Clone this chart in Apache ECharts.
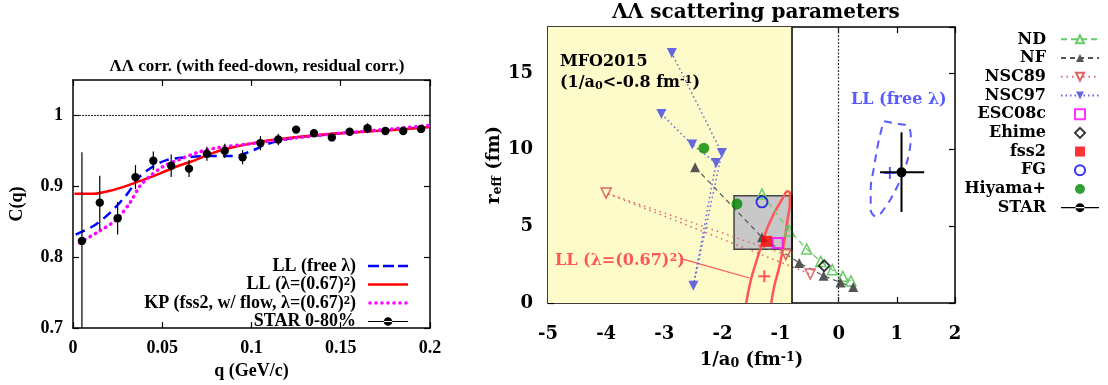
<!DOCTYPE html>
<html>
<head>
<meta charset="utf-8">
<script src="https://cdn.jsdelivr.net/npm/echarts@6/dist/echarts.min.js"></script>
<style>
html, body { margin: 0; padding: 0; background: #fff; }
#chart { width: 1108px; height: 385px; }
</style>
</head>
<body>
<div id="chart"></div>
<script>
// ---------- left panel: correlation function C(q) ----------
const starQ = [0.005, 0.015, 0.025, 0.035, 0.045, 0.055, 0.065, 0.075, 0.085, 0.095,
               0.105, 0.115, 0.125, 0.135, 0.145, 0.155, 0.165, 0.175, 0.185, 0.195];
const starC = [0.823, 0.877, 0.855, 0.913, 0.936, 0.929, 0.925, 0.946, 0.950, 0.941,
               0.961, 0.966, 0.980, 0.975, 0.969, 0.977, 0.982, 0.978, 0.978, 0.981];
const starErr = [0.125, 0.038, 0.023, 0.017, 0.013, 0.016, 0.012, 0.010, 0.010, 0.010,
                 0.010, 0.008, 0.005, 0.005, 0.005, 0.005, 0.007, 0.004, 0.004, 0.004];

const llFree = [[0.0015, 0.832], [0.0114, 0.844], [0.0207, 0.8625], [0.030, 0.888], [0.0374, 0.9137],
                [0.0449, 0.928], [0.0524, 0.937], [0.0636, 0.941], [0.0748, 0.9427], [0.086, 0.9427],
                [0.0935, 0.944], [0.101, 0.951], [0.1085, 0.9594], [0.123, 0.968], [0.142, 0.973],
                [0.161, 0.977], [0.18, 0.980], [0.2, 0.984]];
const llFixed = [[0.0008, 0.8895], [0.0114, 0.8895], [0.0207, 0.8937], [0.030, 0.9007], [0.0393, 0.909],
                 [0.0486, 0.918], [0.058, 0.928], [0.0674, 0.936], [0.0767, 0.9455], [0.086, 0.953],
                 [0.1047, 0.9627], [0.123, 0.9688], [0.1421, 0.9734], [0.1608, 0.9767], [0.1795, 0.9795],
                 [0.2, 0.9837]];
const kpFss2 = [[0.0037, 0.8206], [0.0149, 0.837], [0.0243, 0.853], [0.0318, 0.8765], [0.0374, 0.90],
                [0.043, 0.914], [0.0505, 0.928], [0.0598, 0.938], [0.071, 0.9487], [0.0823, 0.955],
                [0.0972, 0.9594], [0.114, 0.965], [0.1327, 0.9706], [0.1514, 0.9753], [0.17, 0.979],
                [0.2, 0.986]];
const unityLine = [[0, 1], [0.2, 1]];

// ---------- right panel: scattering parameters (1/a0, r_eff) ----------
const ndPts = [[-1.32, 7.11], [-0.85, 4.72], [-0.55, 3.52], [-0.31, 2.71], [-0.11, 2.17], [0.07, 1.74], [0.21, 1.44]];
const nfPts = [[-2.47, 8.85], [-1.32, 4.28], [-0.68, 2.61], [-0.26, 1.78], [0.03, 1.34], [0.25, 1.04]];
const nsc89Pts = [[-0.91, 3.15], [-4.0, 7.17], [-0.49, 1.89]];
const nsc97Pts = [[-3.05, 12.33], [-2.52, 10.33], [-2.11, 9.13], [-2.5, 1.13], [-2.01, 9.78], [-2.87, 16.3]];
const esc08cPts = [[-1.05, 3.91]];
const ehimePts = [[-0.25, 2.43]];
const fss2Pts = [[-1.24, 4.02]];
const fgPts = [[-1.32, 6.59]];
const hiyamaPts = [[-2.32, 10.1], [-1.75, 6.46]];
// x, y, xLow, xHigh, yLow, yHigh
const starRight = [[1.08, 8.52, 0.71, 1.47, 5.94, 11.13]];

const llFixedContour = [[-1.59, 0], [-1.51, 1.52], [-1.39, 3.04], [-1.25, 4.67], [-1.11, 5.87], [-0.96, 6.85],
                        [-0.88, 7.28], [-0.84, 7.17], [-0.84, 6.52], [-0.88, 5.43], [-0.93, 4.13],
                        [-1.02, 2.39], [-1.11, 1.08], [-1.16, 0]];
const llFreeContour = [[0.78, 11.85], [1.04, 11.67], [1.18, 11.57], [1.24, 10.87], [1.21, 9.78], [1.13, 8.7],
                       [0.98, 7.39], [0.81, 6.3], [0.64, 5.65], [0.55, 6.09], [0.55, 7.39], [0.61, 8.91],
                       [0.68, 10.44], [0.75, 11.52], [0.78, 11.85]];
const llFixedBest = [[-1.28, 1.74]];
const llFreeBest = [[0.88, 8.48]];
const llFixedPointer = [[-2.71, 2.89], [-1.54, 1.63]];
const mfoRange = [-5, -0.8];
const grayBox = [[-1.8, 3.5], [-0.8, 7.0]];

const SERIF = 'Liberation Serif';   // left panel
const WIDE = 'DejaVu Serif';        // right panel (its lettering is wider)
const chart = echarts.init(document.getElementById('chart'));

// rich text tokens: b = base, s = subscript, u = superscript
function rich(font, size, lh) {
  return {
    b: { fontFamily: font, fontWeight: 'bold', fontSize: size, lineHeight: lh || size + 1 },
    s: { fontFamily: font, fontWeight: 'bold', fontSize: size * 0.7, lineHeight: 6, verticalAlign: 'bottom' },
    u: { fontFamily: font, fontWeight: 'bold', fontSize: size * 0.7, lineHeight: 6, verticalAlign: 'top' }
  };
}

function axisBase(font, size, margin, hideMax) {
  return {
    axisLine: { show: true, onZero: false, lineStyle: { color: '#000', width: 1.5 } },
    axisTick: { show: true, inside: true, length: 6, lineStyle: { color: '#000', width: 1.2 } },
    splitLine: { show: false },
    axisLabel: { color: '#000', fontFamily: font, fontWeight: 'bold', fontSize: size, margin: margin, showMaxLabel: !hideMax },
    nameTextStyle: { color: '#000', fontFamily: font, fontWeight: 'bold', fontSize: size, rich: rich(font, size) }
  };
}

function mirror(extra) {
  const a = axisBase(SERIF, 12, 8, false);
  a.axisLabel = { show: false };
  return Object.assign(a, extra);
}

function renderStarLeft(params, api) {
  const q = api.value(0), c = api.value(1), e = api.value(2);
  const p = api.coord([q, c]);
  const hi = api.coord([q, c + e]);
  const lo = api.coord([q, c - e]);
  return {
    type: 'group',
    children: [
      { type: 'line', shape: { x1: p[0], y1: hi[1], x2: p[0], y2: lo[1] }, style: { stroke: '#000', lineWidth: 1.2 } },
      { type: 'circle', shape: { cx: p[0], cy: p[1], r: 4.2 }, style: { fill: '#000' } }
    ]
  };
}

function renderStarRight(params, api) {
  const p = api.coord([api.value(0), api.value(1)]);
  const xl = api.coord([api.value(2), api.value(1)]);
  const xh = api.coord([api.value(3), api.value(1)]);
  const yl = api.coord([api.value(0), api.value(4)]);
  const yh = api.coord([api.value(0), api.value(5)]);
  return {
    type: 'group',
    children: [
      { type: 'line', shape: { x1: xl[0], y1: p[1], x2: xh[0], y2: p[1] }, style: { stroke: '#000', lineWidth: 2 } },
      { type: 'line', shape: { x1: p[0], y1: yl[1], x2: p[0], y2: yh[1] }, style: { stroke: '#000', lineWidth: 2 } },
      { type: 'circle', shape: { cx: p[0], cy: p[1], r: 5 }, style: { fill: '#000' } }
    ]
  };
}

function crossRenderer(color) {
  return function (params, api) {
    const p = api.coord([api.value(0), api.value(1)]);
    const h = 6;
    return {
      type: 'group',
      children: [
        { type: 'line', shape: { x1: p[0] - h, y1: p[1], x2: p[0] + h, y2: p[1] }, style: { stroke: color, lineWidth: 2 } },
        { type: 'line', shape: { x1: p[0], y1: p[1] - h, x2: p[0], y2: p[1] + h }, style: { stroke: color, lineWidth: 2 } }
      ]
    };
  };
}

// legend icon paths (w x 10 boxes, tiny anchors keep the full bounds)
function anchors(w) { return 'M0,0L0.01,0L0,0.01Z M' + w + ',10L' + (w - 0.01) + ',10L' + w + ',9.99Z '; }
function circ(cx, cy, r) {
  return 'M' + (cx - r) + ',' + cy + 'A' + r + ',' + r + ',0,1,0,' + (cx + r) + ',' + cy +
         'A' + r + ',' + r + ',0,1,0,' + (cx - r) + ',' + cy + 'Z ';
}
const iconDash = 'path://' + anchors(40) + 'M0,3.8L11,3.8L11,6.2L0,6.2Z M15,3.8L26,3.8L26,6.2L15,6.2Z M30,3.8L40,3.8L40,6.2L30,6.2Z';
const iconSolid = 'path://' + anchors(40) + 'M0,3.7L40,3.7L40,6.3L0,6.3Z';
let dots = '';
for (let x = 2; x <= 38; x += 6) dots += circ(x, 5, 1.8);
const iconDots = 'path://' + anchors(40) + dots;
const iconStarLeft = 'path://' + anchors(40) + 'M0,4.4L40,4.4L40,5.6L0,5.6Z ' + circ(20, 5, 4.3);
const iconStarRight = 'path://' + anchors(38) + 'M0,4.3L38,4.3L38,5.7L0,5.7Z ' + circ(19, 5, 4.5);
const iconSquare = 'path://M0,0L10,0L10,10L0,10Z';
const iconDiamond = 'path://M5,0L10,5L5,10L0,5Z';

const option = {
  animation: false,
  backgroundColor: '#fff',
  title: [
    {
      text: 'ΛΛ corr. (with feed-down, residual corr.)',
      left: 252, top: 53, textAlign: 'center',
      textStyle: { fontFamily: SERIF, fontWeight: 'bold', fontSize: 17, color: '#000' }
    },
    {
      text: 'ΛΛ scattering parameters',
      left: 751, top: -2, textAlign: 'center',
      textStyle: { fontFamily: WIDE, fontWeight: 'bold', fontSize: 20, color: '#000' }
    }
  ],
  grid: [
    { left: 73, top: 80, width: 357, height: 249 },
    { left: 548, top: 27, width: 407, height: 276 }
  ],
  xAxis: [
    Object.assign(axisBase(SERIF, 18, 11, false), {
      gridIndex: 0, type: 'value', min: 0, max: 0.2, interval: 0.05, position: 'bottom',
      name: 'q (GeV/c)', nameLocation: 'middle', nameGap: 32
    }),
    Object.assign(axisBase(WIDE, 18, 22, false), {
      gridIndex: 1, type: 'value', min: -5, max: 2, interval: 1, position: 'bottom',
      name: '{b|1/a}{s|0}{b| (fm}{u|-1}{b|)}', nameLocation: 'middle', nameGap: 48
    }),
    mirror({ gridIndex: 0, type: 'value', min: 0, max: 0.2, interval: 0.05, position: 'top' }),
    mirror({ gridIndex: 1, type: 'value', min: -5, max: 2, interval: 1, position: 'top' })
  ],
  yAxis: [
    Object.assign(axisBase(SERIF, 18, 10, true), {
      gridIndex: 0, type: 'value', min: 0.7, max: 1.05, interval: 0.1, position: 'left',
      name: 'C(q)', nameLocation: 'middle', nameGap: 47
    }),
    Object.assign(axisBase(WIDE, 18, 15, true), {
      gridIndex: 1, type: 'value', min: 0, max: 18, interval: 5, position: 'left',
      name: '{b|r}{s|eff}{b| (fm)}', nameLocation: 'middle', nameGap: 38
    }),
    mirror({ gridIndex: 0, type: 'value', min: 0.7, max: 1.05, interval: 0.1, position: 'right' }),
    mirror({ gridIndex: 1, type: 'value', min: 0, max: 18, interval: 5, position: 'right' })
  ],
  legend: [
    {
      orient: 'vertical', align: 'right', right: 695, top: 252,
      itemWidth: 40, itemHeight: 10, itemGap: 0.5, selectedMode: false, symbolKeepAspect: true,
      formatter: function (name) {
        if (name === 'LL (λ=(0.67)²)') return '{b|LL (λ=(0.67)}{u|2}{b|)}';
        if (name === 'KP (fss2, w/ flow, λ=(0.67)²)') return '{b|KP (fss2, w/ flow, λ=(0.67)}{u|2}{b|)}';
        return '{b|' + name + '}';
      },
      textStyle: { color: '#000', fontFamily: SERIF, fontWeight: 'bold', fontSize: 18, padding: [0, 7, 0, 0], rich: rich(SERIF, 18, 18) },
      data: [
        { name: 'LL (free λ)', icon: iconDash },
        { name: 'LL (λ=(0.67)²)', icon: iconSolid },
        { name: 'KP (fss2, w/ flow, λ=(0.67)²)', icon: iconDots },
        { name: 'STAR 0-80%', icon: iconStarLeft }
      ]
    },
    {
      orient: 'vertical', align: 'right', right: 3, top: 25,
      itemWidth: 38, itemHeight: 10, itemGap: 0, selectedMode: false, symbolKeepAspect: true,
      textStyle: { color: '#000', fontFamily: WIDE, fontWeight: 'bold', fontSize: 16, lineHeight: 18.7, padding: [0, 10, 0, 0] },
      data: ['ND', 'NF', 'NSC89', 'NSC97',
             { name: 'ESC08c', icon: iconSquare }, { name: 'Ehime', icon: iconDiamond },
             { name: 'fss2', icon: iconSquare }, 'FG', 'Hiyama+', { name: 'STAR', icon: iconStarRight }]
    }
  ],
  graphic: [
    { type: 'text', x: 560, y: 62, z: 100, style: { text: 'MFO2015', fill: '#000', font: 'bold 16px "DejaVu Serif"', verticalAlign: 'middle' } },
    { type: 'text', x: 560, y: 83, z: 100, style: { text: '{b|(1/a}{s|0}{b|<-0.8 fm}{u|-1}{b|)}', fill: '#000', rich: rich(WIDE, 16), verticalAlign: 'middle' } },
    { type: 'text', x: 851, y: 100, z: 100, style: { text: 'LL (free λ)', fill: '#5a5aff', font: 'bold 16px "DejaVu Serif"', verticalAlign: 'middle' } },
    { type: 'text', x: 555, y: 261, z: 100, style: { text: '{b|LL (λ=(0.67)}{u|2}{b|)}', fill: '#ff5555', rich: rich(WIDE, 16), verticalAlign: 'middle' } }
  ],
  series: [
    // ----- left panel -----
    {
      name: 'unity', type: 'line', xAxisIndex: 0, yAxisIndex: 0, data: unityLine, symbol: 'none', silent: true,
      lineStyle: { color: '#222', width: 1, type: [2, 1] }, z: 2
    },
    {
      name: 'LL (free λ)', type: 'line', xAxisIndex: 0, yAxisIndex: 0, data: llFree, symbol: 'none', smooth: 0.3,
      lineStyle: { color: '#0000ff', width: 2.5, type: [10, 6] }, itemStyle: { color: '#0000ff' }, z: 3
    },
    {
      name: 'LL (λ=(0.67)²)', type: 'line', xAxisIndex: 0, yAxisIndex: 0, data: llFixed, symbol: 'none', smooth: 0.3,
      lineStyle: { color: '#ff0000', width: 2.5 }, itemStyle: { color: '#ff0000' }, z: 4
    },
    {
      name: 'KP (fss2, w/ flow, λ=(0.67)²)', type: 'line', xAxisIndex: 0, yAxisIndex: 0, data: kpFss2, symbol: 'none', smooth: 0.3,
      lineStyle: { color: '#ff00ff', width: 3.5, type: [0.5, 5.5], cap: 'round' }, itemStyle: { color: '#ff00ff' }, z: 5
    },
    {
      name: 'STAR 0-80%', type: 'custom', xAxisIndex: 0, yAxisIndex: 0, clip: true,
      data: starQ.map(function (q, i) { return [q, starC[i], starErr[i]]; }),
      encode: { x: 0, y: 1 }, renderItem: renderStarLeft, itemStyle: { color: '#000' }, z: 6
    },
    // ----- right panel -----
    {
      name: 'regions', type: 'line', xAxisIndex: 1, yAxisIndex: 1, data: [], silent: true, z: 1,
      markArea: {
        silent: true, label: { show: false },
        data: [
          [{ xAxis: mfoRange[0], itemStyle: { color: '#fdfbc9' } }, { xAxis: mfoRange[1] }],
          [{ coord: grayBox[0], itemStyle: { color: '#c8c8c8', borderColor: '#444', borderWidth: 1.5 } }, { coord: grayBox[1] }]
        ]
      }
    },
    {
      name: 'pointer', type: 'line', xAxisIndex: 1, yAxisIndex: 1, data: llFixedPointer, symbol: 'none', silent: true,
      lineStyle: { color: '#ff5555', width: 1.2 }, z: 2,
      markLine: {
        silent: true, symbol: 'none', label: { show: false },
        data: [
          { xAxis: mfoRange[1], lineStyle: { color: '#000', width: 1.5, type: 'solid' } },
          { xAxis: 0, lineStyle: { color: '#333', width: 1.2, type: [2, 1.5] } }
        ]
      }
    },
    {
      name: 'llFixedContour', type: 'line', xAxisIndex: 1, yAxisIndex: 1, data: llFixedContour, symbol: 'none', smooth: 0.4, silent: true,
      lineStyle: { color: '#ff5555', width: 2.5 }, z: 3
    },
    {
      name: 'llFreeContour', type: 'line', xAxisIndex: 1, yAxisIndex: 1, data: llFreeContour, symbol: 'none', smooth: 0.4, silent: true,
      lineStyle: { color: '#5a5aff', width: 2, type: [8, 6] }, z: 3
    },
    {
      name: 'ND', type: 'line', xAxisIndex: 1, yAxisIndex: 1, data: ndPts, symbol: 'triangle', symbolSize: 10, showSymbol: true,
      lineStyle: { color: '#66cc66', width: 1.2, type: [6, 4] },
      itemStyle: { color: 'rgba(0,0,0,0)', borderColor: '#66cc66', borderWidth: 1.5 }, z: 4
    },
    {
      name: 'NF', type: 'line', xAxisIndex: 1, yAxisIndex: 1, data: nfPts, symbol: 'triangle', symbolSize: 10,
      lineStyle: { color: '#555', width: 1.2, type: [5, 4] }, itemStyle: { color: '#555' }, z: 4
    },
    {
      name: 'NSC89', type: 'line', xAxisIndex: 1, yAxisIndex: 1, data: nsc89Pts, symbol: 'triangle', symbolRotate: 180, symbolSize: 10,
      lineStyle: { color: '#dd6666', width: 1.5, type: [1.5, 4] },
      itemStyle: { color: 'rgba(0,0,0,0)', borderColor: '#dd6666', borderWidth: 1.5 }, z: 4
    },
    {
      name: 'NSC97', type: 'line', xAxisIndex: 1, yAxisIndex: 1, data: nsc97Pts, symbol: 'triangle', symbolRotate: 180, symbolSize: 10,
      lineStyle: { color: '#6666dd', width: 1.5, type: [1.5, 3] }, itemStyle: { color: '#6666dd' }, z: 4
    },
    {
      name: 'ESC08c', type: 'scatter', xAxisIndex: 1, yAxisIndex: 1, data: esc08cPts, symbol: 'rect', symbolSize: 10,
      itemStyle: { color: 'rgba(0,0,0,0)', borderColor: '#ff00ff', borderWidth: 2 }, z: 5
    },
    {
      name: 'Ehime', type: 'scatter', xAxisIndex: 1, yAxisIndex: 1, data: ehimePts, symbol: 'diamond', symbolSize: 11,
      itemStyle: { color: 'rgba(0,0,0,0)', borderColor: '#000', borderWidth: 1.8 }, z: 5
    },
    {
      name: 'fss2', type: 'scatter', xAxisIndex: 1, yAxisIndex: 1, data: fss2Pts, symbol: 'rect', symbolSize: 11,
      itemStyle: { color: '#ff0000' }, z: 5
    },
    {
      name: 'FG', type: 'scatter', xAxisIndex: 1, yAxisIndex: 1, data: fgPts, symbol: 'circle', symbolSize: 11,
      itemStyle: { color: 'rgba(0,0,0,0)', borderColor: '#0000ee', borderWidth: 1.8 }, z: 5
    },
    {
      name: 'Hiyama+', type: 'scatter', xAxisIndex: 1, yAxisIndex: 1, data: hiyamaPts, symbol: 'circle', symbolSize: 11,
      itemStyle: { color: '#008800' }, z: 5
    },
    {
      name: 'llFixedBest', type: 'custom', xAxisIndex: 1, yAxisIndex: 1, data: llFixedBest, encode: { x: 0, y: 1 },
      renderItem: crossRenderer('#ff5555'), silent: true, z: 5
    },
    {
      name: 'llFreeBest', type: 'custom', xAxisIndex: 1, yAxisIndex: 1, data: llFreeBest, encode: { x: 0, y: 1 },
      renderItem: crossRenderer('#5a5aff'), silent: true, z: 5
    },
    {
      name: 'STAR', type: 'custom', xAxisIndex: 1, yAxisIndex: 1, data: starRight, encode: { x: 0, y: 1 },
      renderItem: renderStarRight, itemStyle: { color: '#000' }, z: 6
    }
  ]
};

chart.setOption(option);
</script>
</body>
</html>
